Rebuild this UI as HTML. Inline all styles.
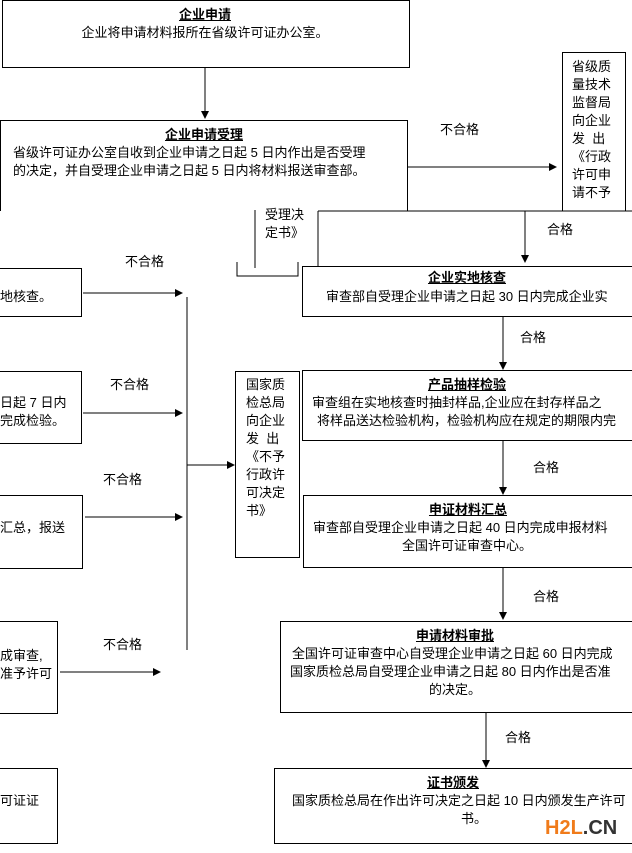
<!DOCTYPE html>
<html><head><meta charset="utf-8"><style>
body{margin:0;width:632px;height:853px;background:#fff;position:relative;overflow:hidden;font-family:"Liberation Sans","Noto Sans CJK SC","WenQuanYi Zen Hei",sans-serif;font-size:13px;color:#000}
.b{position:absolute;border:1px solid #000;box-sizing:border-box}
.t{position:absolute;white-space:nowrap;line-height:18px}
.h{font-weight:bold;text-decoration:underline}
svg{position:absolute;left:0;top:0}
</style></head><body>
<svg width="632" height="853">
<defs><marker id="a" markerWidth="8" markerHeight="8" refX="7" refY="4" orient="auto"><path d="M0,0L8,4L0,8z" fill="#000"/></marker></defs>
<g stroke="#000" stroke-width="1" fill="none">
<line x1="205" y1="67" x2="205" y2="118" marker-end="url(#a)"/>
<line x1="407" y1="167" x2="556" y2="167" marker-end="url(#a)"/>
<line x1="525" y1="211" x2="525" y2="262" marker-end="url(#a)"/>
<line x1="83" y1="293" x2="182" y2="293" marker-end="url(#a)"/>
<line x1="187" y1="297" x2="187" y2="650"/>
<line x1="503" y1="316" x2="503" y2="369" marker-end="url(#a)"/>
<line x1="83" y1="413" x2="182" y2="413" marker-end="url(#a)"/>
<line x1="187" y1="465" x2="234" y2="465" marker-end="url(#a)"/>
<line x1="503" y1="440" x2="503" y2="494" marker-end="url(#a)"/>
<line x1="85" y1="517" x2="182" y2="517" marker-end="url(#a)"/>
<line x1="503" y1="567" x2="503" y2="619" marker-end="url(#a)"/>
<line x1="60" y1="672" x2="160" y2="672" marker-end="url(#a)"/>
<line x1="486" y1="713" x2="486" y2="767" marker-end="url(#a)"/>
<line x1="255" y1="210" x2="255" y2="268"/>
<path d="M237,262V276H298V262"/>
<line x1="318" y1="211" x2="632" y2="211"/>
<line x1="318" y1="211" x2="318" y2="266"/>
</g></svg>
<div class="b" style="left:2px;top:0;width:408px;height:68px"></div>
<div class="t h" style="left:0;width:410px;text-align:center;top:6px">企业申请</div>
<div class="t" style="left:0;width:410px;text-align:center;top:24px">企业将申请材料报所在省级许可证办公室。</div>
<div class="b" style="left:0;top:120px;width:408px;height:91px;border-bottom:none"></div>
<div class="t h" style="left:0;width:408px;text-align:center;top:126px">企业申请受理</div>
<div class="t" style="left:13px;top:144px">省级许可证办公室自收到企业申请之日起 5 日内作出是否受理</div>
<div class="t" style="left:13px;top:162px">的决定，并自受理企业申请之日起 5 日内将材料报送审查部。</div>
<div class="t" style="left:440px;top:121px">不合格</div>
<div class="b" style="left:562px;top:52px;width:64px;height:159px;border-bottom:none"></div>
<div class="t" style="left:572px;top:58px;width:45px;white-space:normal;line-height:18px">省级质量技术监督局向企业发&nbsp;&nbsp;出《行政许可申请不予</div>
<div class="t" style="left:265px;top:206px;line-height:18px">受理决<br>定书》</div>
<div class="t" style="left:547px;top:221px">合格</div>
<div class="b" style="left:302px;top:266px;width:340px;height:51px"></div>
<div class="t h" style="left:302px;width:330px;text-align:center;top:269px">企业实地核查</div>
<div class="t" style="left:326px;top:288px">审查部自受理企业申请之日起 30 日内完成企业实</div>
<div class="b" style="left:-2px;top:268px;width:84px;height:49px"></div>
<div class="t" style="left:0;top:288px">地核查。</div>
<div class="t" style="left:125px;top:253px">不合格</div>
<div class="t" style="left:520px;top:329px">合格</div>
<div class="b" style="left:302px;top:370px;width:340px;height:71px"></div>
<div class="t h" style="left:302px;width:330px;text-align:center;top:376px">产品抽样检验</div>
<div class="t" style="left:312px;top:394px">审查组在实地核查时抽封样品,企业应在封存样品之</div>
<div class="t" style="left:317px;top:412px">将样品送达检验机构，检验机构应在规定的期限内完</div>
<div class="b" style="left:-2px;top:371px;width:84px;height:73px"></div>
<div class="t" style="left:0;top:394px">日起 7 日内</div>
<div class="t" style="left:0;top:412px">完成检验。</div>
<div class="t" style="left:110px;top:376px">不合格</div>
<div class="b" style="left:235px;top:371px;width:65px;height:187px"></div>
<div class="t" style="left:246px;top:376px;width:45px;white-space:normal">国家质检总局向企业发&nbsp;&nbsp;出《不予行政许可决定书》</div>
<div class="t" style="left:533px;top:459px">合格</div>
<div class="b" style="left:303px;top:495px;width:340px;height:73px"></div>
<div class="t h" style="left:303px;width:330px;text-align:center;top:501px">申证材料汇总</div>
<div class="t" style="left:313px;top:519px">审查部自受理企业申请之日起 40 日内完成申报材料</div>
<div class="t" style="left:303px;width:328px;text-align:center;top:537px">全国许可证审查中心。</div>
<div class="b" style="left:-2px;top:495px;width:85px;height:74px"></div>
<div class="t" style="left:0;top:519px">汇总，报送</div>
<div class="t" style="left:103px;top:471px">不合格</div>
<div class="t" style="left:533px;top:588px">合格</div>
<div class="b" style="left:280px;top:621px;width:360px;height:92px"></div>
<div class="t h" style="left:280px;width:350px;text-align:center;top:627px">申请材料审批</div>
<div class="t" style="left:292px;top:645px">全国许可证审查中心自受理企业申请之日起 60 日内完成</div>
<div class="t" style="left:290px;top:663px">国家质检总局自受理企业申请之日起 80 日内作出是否准</div>
<div class="t" style="left:280px;width:350px;text-align:center;top:681px">的决定。</div>
<div class="b" style="left:-2px;top:621px;width:60px;height:93px"></div>
<div class="t" style="left:0;top:647px">成审查,</div>
<div class="t" style="left:0;top:665px">准予许可</div>
<div class="t" style="left:103px;top:636px">不合格</div>
<div class="t" style="left:505px;top:729px">合格</div>
<div class="b" style="left:274px;top:768px;width:366px;height:76px"></div>
<div class="t h" style="left:274px;width:358px;text-align:center;top:774px">证书颁发</div>
<div class="t" style="left:292px;top:792px">国家质检总局在作出许可决定之日起 10 日内颁发生产许可</div>
<div class="t" style="left:274px;width:400px;text-align:center;top:810px">书。</div>
<div class="b" style="left:-2px;top:768px;width:60px;height:76px"></div>
<div class="t" style="left:0;top:792px">可证证</div>
<div class="t" style="left:545px;top:816px;font-size:20px;font-weight:bold;line-height:24px"><span style="color:#f07b1a">H2L</span><span style="color:#333">.CN</span></div>
</body></html>
